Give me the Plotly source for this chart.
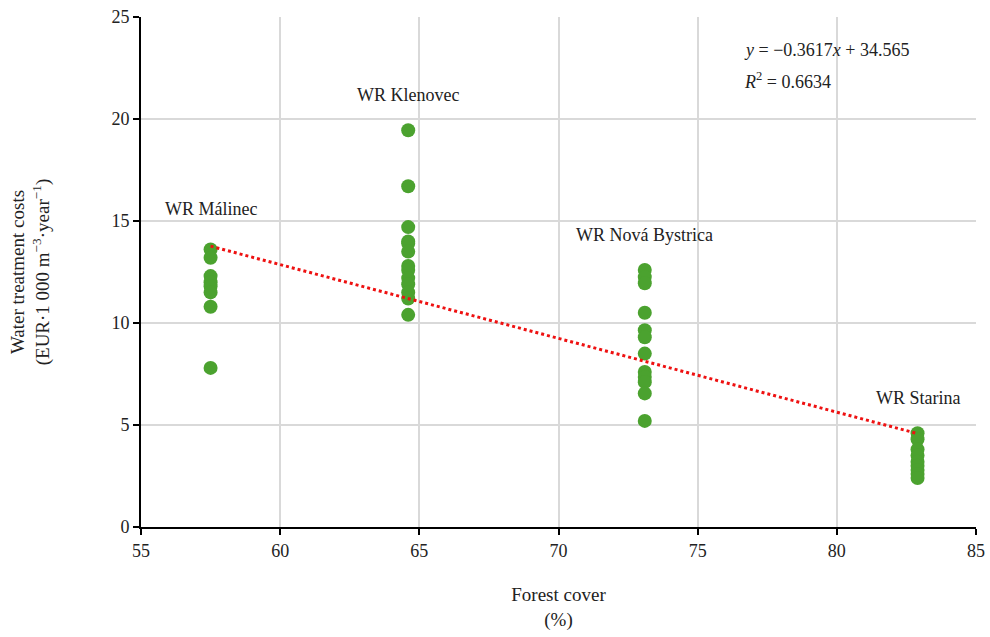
import plotly.graph_objects as go

# Data
forest_cover = [57.5, 64.6, 73.1, 82.9]
reservoirs = ["WR Málinec", "WR Klenovec", "WR Nová Bystrica", "WR Starina"]
costs_malinec = [13.6, 13.2, 12.3, 12.0, 11.8, 11.5, 10.8, 7.8]
costs_klenovec = [19.45, 16.7, 14.7, 14.0, 13.9, 13.5, 12.8, 12.6, 12.2, 11.9, 11.5, 11.2, 10.4]
costs_bystrica = [12.6, 12.25, 11.95, 10.5, 9.65, 9.3, 8.5, 7.6, 7.35, 7.1, 6.55, 5.2]
costs_starina = [4.6, 4.3, 3.8, 3.5, 3.2, 3.0, 2.8, 2.6, 2.4]
slope = -0.3617
intercept = 34.565
r2 = 0.6634

groups = [costs_malinec, costs_klenovec, costs_bystrica, costs_starina]
xs, ys = [], []
for fc, g in zip(forest_cover, groups):
    xs += [fc] * len(g)
    ys += g

FONT = "Liberation Serif"
TXT = "#222222"
fig = go.Figure()
trend_x = [forest_cover[0], forest_cover[-1]]
trend_y = [slope * v + intercept for v in trend_x]
fig.add_trace(go.Scatter(x=xs, y=ys, mode="markers",
                         marker=dict(color="#4ba22f", size=14, line=dict(width=0)),
                         showlegend=False))
fig.add_trace(go.Scatter(x=trend_x, y=trend_y, mode="lines",
                         line=dict(color="#ee1111", width=3, dash="dot"),
                         showlegend=False))

label_y = [15.6, 21.2, 14.3, 6.3]
for fc, name, ly in zip(forest_cover, reservoirs, label_y):
    fig.add_annotation(x=fc, y=ly, text=name, showarrow=False,
                       font=dict(family=FONT, size=18, color=TXT))

fig.add_annotation(xref="paper", yref="paper", x=0.72, y=0.958, xanchor="left",
                   text=f"<i>y</i> = −{abs(slope)}<i>x</i> + {intercept}", showarrow=False,
                   font=dict(family=FONT, size=18, color=TXT))
fig.add_annotation(xref="paper", yref="paper", x=0.72, y=0.901, xanchor="left",
                   text=f"<i>R</i><sup>2</sup> = {r2}", showarrow=False,
                   font=dict(family=FONT, size=18, color=TXT))

axis_common = dict(dtick=5, showgrid=True, gridcolor="#d9d9d9", gridwidth=1.5,
                   showline=True, linecolor="black", linewidth=2, ticks="outside",
                   ticklen=6, tickcolor="black", tickwidth=1.5, zeroline=False,
                   automargin=False, tickfont=dict(family=FONT, size=18, color=TXT))

fig.update_layout(
    width=990, height=637,
    margin=dict(l=141, r=14, t=17, b=110),
    paper_bgcolor="white", plot_bgcolor="white",
    font=dict(family=FONT, size=18, color=TXT),
    xaxis=dict(range=[55, 85], **axis_common,
               title=dict(text="Forest cover<br>(%)", standoff=28,
                          font=dict(family=FONT, size=19, color=TXT))),
    yaxis=dict(range=[0, 25], **axis_common,
               title=dict(text="Water treatment costs<br>(EUR·1 000 m<sup>−3</sup>·year<sup>−1</sup>)",
                          standoff=57, font=dict(family=FONT, size=19, color=TXT))),
)
fig.write_html("out.html", config={"displayModeBar": False},
               post_script="document.body.style.margin='0';document.body.style.overflow='hidden';")
